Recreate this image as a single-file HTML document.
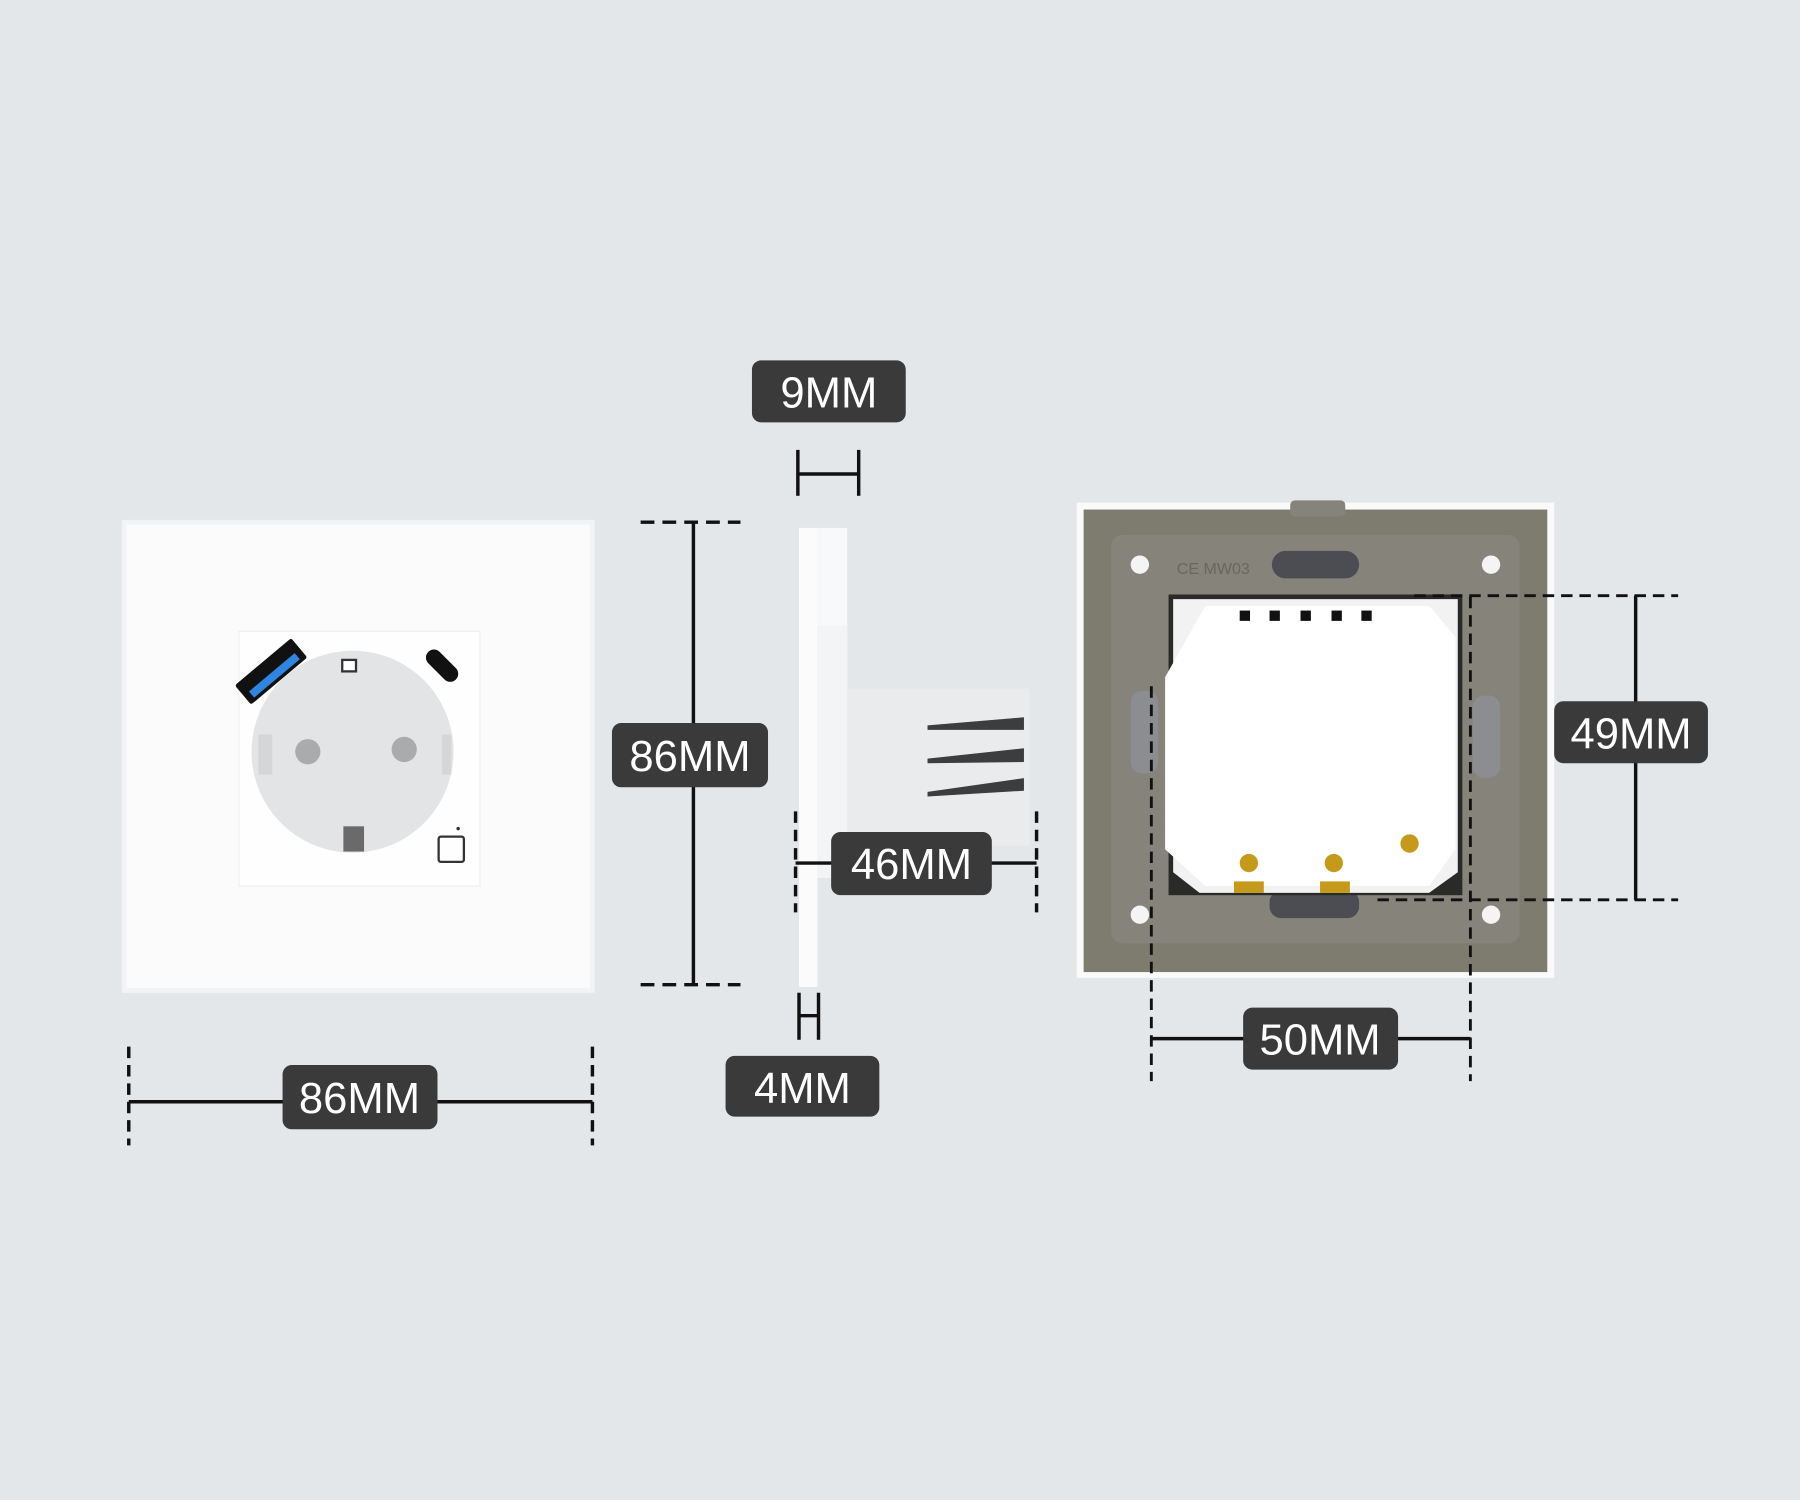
<!DOCTYPE html>
<html><head><meta charset="utf-8"><style>
html,body{margin:0;padding:0;background:#e4e7ea;}
svg{display:block;}
text{font-family:"Liberation Sans",sans-serif;font-size:38px;fill:#fff;text-anchor:middle;}
</style></head><body>
<svg width="1800" height="1500" viewBox="0 0 1568 1307" xmlns="http://www.w3.org/2000/svg">
<rect width="1568" height="1307" fill="#e4e7ea"/>
<!-- Left front plate -->
<rect x="106" y="453" width="412" height="412" fill="#f1f3f4"/>
<rect x="110" y="457" width="404" height="404" fill="#fbfbfb"/>
<rect x="208" y="550" width="210" height="222" fill="#fefefe" stroke="#eceeef"/>
<circle cx="307" cy="655" r="88" fill="#e2e4e6"/>
<path d="M225 640 v35 h12 v-35z" fill="#d4d6d8"/>
<path d="M385 640 v35 h8 v-35z" fill="#d4d6d8"/>
<rect x="299" y="720" width="18" height="22" fill="#6a6a6a"/>
<rect x="298" y="575" width="12" height="10" fill="#fff" stroke="#333" stroke-width="2"/>
<circle cx="268" cy="655" r="11" fill="#a9abad"/>
<circle cx="352" cy="653" r="11" fill="#a9abad"/>
<g transform="translate(236,585) rotate(-40)"><rect x="-32" y="-11" width="64" height="22" rx="2" fill="#111"/><rect x="-26" y="1" width="52" height="7" fill="#2f86e0"/></g>
<g transform="translate(385,580) rotate(45)"><rect x="-17" y="-7" width="34" height="14" rx="7" fill="#111"/></g>
<rect x="382" y="729" width="22" height="22" rx="2" fill="none" stroke="#333" stroke-width="2"/>
<circle cx="399" cy="722" r="1.5" fill="#333"/>
<!-- left dims -->
<g stroke="#111" stroke-width="3" fill="none">
<line x1="112" y1="960" x2="516" y2="960"/>
<line x1="112" y1="912" x2="112" y2="998" stroke-dasharray="10,6"/>
<line x1="516" y1="912" x2="516" y2="998" stroke-dasharray="10,6"/>
<line x1="604" y1="455" x2="604" y2="858"/>
<line x1="558" y1="455" x2="645" y2="455" stroke-dasharray="12,7"/>
<line x1="558" y1="858" x2="645" y2="858" stroke-dasharray="12,7"/>
</g>
<rect x="246" y="928" width="135" height="56" rx="8" fill="#3a3a3a"/><text x="313" y="970">86MM</text>
<rect x="533" y="630" width="136" height="56" rx="8" fill="#3a3a3a"/><text x="601" y="672">86MM</text>
<!-- side view -->
<rect x="696" y="460" width="16" height="400" fill="#fbfbfb"/>
<rect x="712" y="460" width="26" height="305" fill="#f8f9fa"/>
<rect x="712" y="545" width="26" height="220" fill="#f3f4f5"/>
<rect x="738" y="600" width="159" height="137" fill="#e9ebed"/>
<polygon points="808,632 892,625 892,636 808,636" fill="#3d3d3d"/>
<polygon points="808,661 892,652 892,664 808,665" fill="#3d3d3d"/>
<polygon points="808,690 892,678 892,689 808,694" fill="#3d3d3d"/>
<g stroke="#111" stroke-width="3" fill="none">
<line x1="695" y1="413" x2="748" y2="413"/>
<line x1="695" y1="392" x2="695" y2="432"/><line x1="748" y1="392" x2="748" y2="432"/>
<line x1="693" y1="752" x2="903" y2="752"/>
<line x1="693" y1="707" x2="693" y2="795" stroke-dasharray="10,6"/>
<line x1="903" y1="707" x2="903" y2="795" stroke-dasharray="10,6"/>
<line x1="696" y1="865" x2="696" y2="906"/><line x1="713" y1="865" x2="713" y2="906"/>
<line x1="696" y1="885" x2="713" y2="885"/>
</g>
<rect x="655" y="314" width="134" height="54" rx="8" fill="#3a3a3a"/><text x="722" y="355">9MM</text>
<rect x="724" y="725" width="140" height="55" rx="8" fill="#3a3a3a"/><text x="794" y="766">46MM</text>
<rect x="632" y="920" width="134" height="53" rx="8" fill="#3a3a3a"/><text x="699" y="961">4MM</text>
<!-- back view -->
<rect x="938" y="438" width="416" height="414" fill="#fafafa"/>
<rect x="944" y="444" width="404" height="403" fill="#7e7b6f"/>
<rect x="968" y="466" width="356" height="356" rx="10" fill="#86837a"/>
<rect x="1124" y="436" width="48" height="14" rx="4" fill="#86837a"/>
<circle cx="993" cy="492" r="8" fill="#f4f4f4"/><circle cx="1299" cy="492" r="8" fill="#f4f4f4"/>
<circle cx="993" cy="797" r="8" fill="#f4f4f4"/><circle cx="1299" cy="797" r="8" fill="#f4f4f4"/>
<text x="1057" y="500" style="font-size:14px;fill:#6a675d">CE MW03</text>
<rect x="1108" y="480" width="76" height="24" rx="12" fill="#4b4d52"/>
<rect x="1106" y="776" width="78" height="24" rx="10" fill="#4b4d52"/>
<rect x="985" y="602" width="24" height="72" rx="10" fill="#8c8d90"/>
<rect x="1283" y="606" width="24" height="72" rx="10" fill="#8c8d90"/>
<rect x="1018" y="518" width="256" height="262" fill="#2a2a28"/>
<path d="M1022 522 H1270 V760 L1245 778 H1045 L1022 760 Z" fill="#f2f2f2"/>
<path d="M1050 528 H1245 L1268 555 V740 L1245 772 H1050 L1015 740 V590 Z" fill="#fff"/>
<g fill="#111"><rect x="1080" y="532" width="9" height="9"/><rect x="1106" y="532" width="9" height="9"/><rect x="1133" y="532" width="9" height="9"/><rect x="1160" y="532" width="9" height="9"/><rect x="1186" y="532" width="9" height="9"/></g>
<g fill="#c59a1a"><circle cx="1088" cy="752" r="8"/><circle cx="1162" cy="752" r="8"/><circle cx="1228" cy="735" r="8"/><rect x="1075" y="768" width="26" height="10"/><rect x="1150" y="768" width="26" height="10"/></g>
<g stroke="#111" stroke-width="2.5" fill="none">
<line x1="1232" y1="519" x2="1462" y2="519" stroke-dasharray="10,6"/>
<line x1="1200" y1="784" x2="1462" y2="784" stroke-dasharray="10,6"/>
<line x1="1425" y1="519" x2="1425" y2="784" stroke-width="3"/>
<line x1="1003" y1="598" x2="1003" y2="942" stroke-dasharray="10,6"/>
<line x1="1281" y1="520" x2="1281" y2="942" stroke-dasharray="10,6"/>
<line x1="1003" y1="905" x2="1281" y2="905" stroke-width="3"/>
</g>
<rect x="1354" y="611" width="134" height="54" rx="8" fill="#3a3a3a"/><text x="1421" y="652">49MM</text>
<rect x="1083" y="878" width="135" height="54" rx="8" fill="#3a3a3a"/><text x="1150" y="919">50MM</text>
</svg>
</body></html>
